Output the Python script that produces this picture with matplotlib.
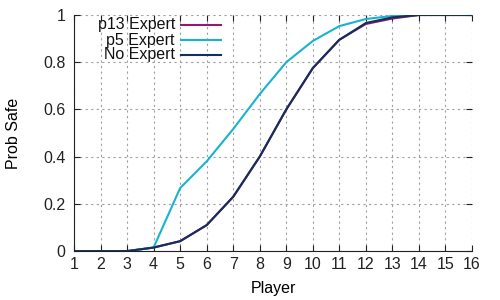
import matplotlib
matplotlib.use('Agg')
import matplotlib.pyplot as plt
from matplotlib.lines import Line2D

plt.rcParams['font.family'] = ['Liberation Sans', 'DejaVu Sans']

players = list(range(1, 17))
p13_expert = [0, 0, 0, 0.015, 0.042, 0.11, 0.23, 0.40, 0.60, 0.775, 0.895, 0.962, 0.985, 1.0, 1.0, 1.0]
p5_expert = [0, 0, 0, 0.015, 0.267, 0.38, 0.517, 0.665, 0.80, 0.89, 0.953, 0.983, 0.996, 1.0, 1.0, 1.0]
no_expert = [0, 0, 0, 0.015, 0.042, 0.11, 0.23, 0.40, 0.60, 0.775, 0.895, 0.966, 0.99, 1.0, 1.0, 1.0]

series = [('p13 Expert', p13_expert, '#941a6e'),
          ('p5 Expert', p5_expert, '#17b4cf'),
          ('No Expert', no_expert, '#13305c')]

W, H = 500, 300
fig = plt.figure(figsize=(5, 3), dpi=100)
ax = fig.add_axes([0.148, 0.163, 0.796, 0.787])

for name, vals, col in series:
    ax.plot(players, vals, color=col, lw=1.5)

ax.set_xlim(1, 16)
ax.set_ylim(0, 1)
ax.set_xticks(players)
ax.set_yticks([0, 0.2, 0.4, 0.6, 0.8, 1])
ax.set_yticklabels(['0', '0.2', '0.4', '0.6', '0.8', '1'])
ax.grid(True, color='#a0a0a0', linestyle=(0, (2, 3)), lw=0.8)
ax.tick_params(direction='in', length=4, labelsize=11.5, top=True, right=True, colors='#222222')
ax.tick_params(axis='y', pad=6)
ax.tick_params(axis='x', pad=4)
for s in ['top', 'right']:
    ax.spines[s].set_visible(False)
for s in ['left', 'bottom']:
    ax.spines[s].set_color('#222222')
ax.set_xlabel('Player', fontsize=11.5, labelpad=7)
ax.set_ylabel('Prob Safe', fontsize=11.5, labelpad=16)

# gnuplot style key: right-aligned labels, sample line after
for i, (name, vals, col) in enumerate(series):
    y = 1 - (25 + 15 * i) / H
    fig.text(175 / W, y, name, ha='right', va='center', fontsize=11.5, color='#111111')
    fig.add_artist(Line2D([181 / W, 221 / W], [y, y], color=col, lw=1.5))

fig.savefig('out.png', dpi=100)
